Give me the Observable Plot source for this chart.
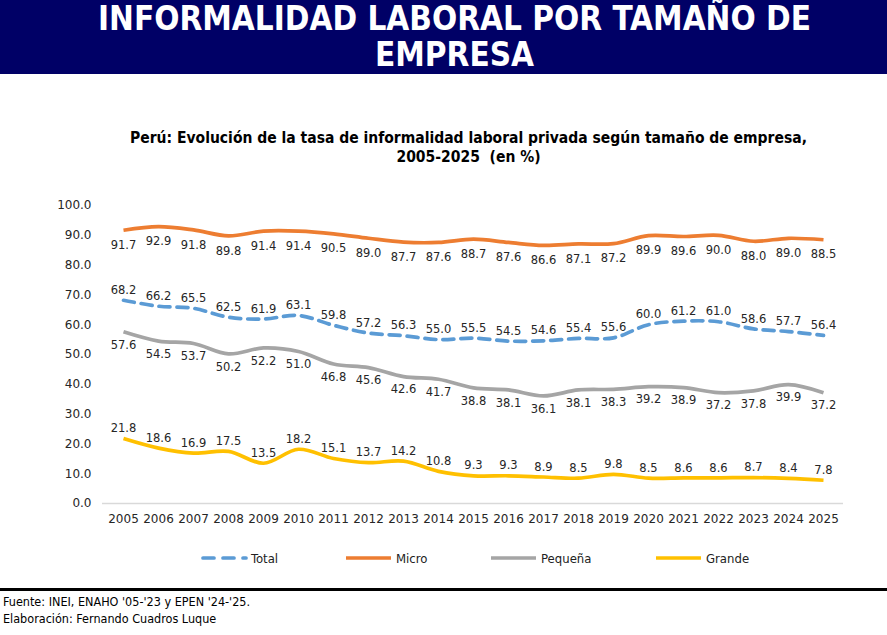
<!DOCTYPE html>
<html><head><meta charset="utf-8">
<script src="https://cdn.jsdelivr.net/npm/d3@7"></script>
<script src="https://cdn.jsdelivr.net/npm/@observablehq/plot@0.6"></script>
<style>
body{margin:0;background:#fff;width:887px;height:635px;position:relative;overflow:hidden;font-family:"DejaVu Sans",sans-serif}
#banner{position:absolute;left:0;top:0;width:887px;height:74px;background:#000066;color:#fff;text-align:center;font-family:"DejaVu Sans Condensed","DejaVu Sans",sans-serif;font-weight:bold;font-size:33px;box-sizing:border-box;padding-left:22px}
#banner div{height:36px;line-height:38px;overflow:visible}
#sub{position:absolute;left:0;top:129px;width:887px;padding-left:50px;box-sizing:border-box;text-align:center;font-family:"Liberation Sans Narrow","DejaVu Sans Condensed",sans-serif;font-weight:bold;font-size:15.5px;line-height:19px;color:#000}
#chart{position:absolute;left:0;top:190px}
#legend{position:absolute;top:548px;left:0;width:887px;height:20px;font-family:"Liberation Sans Narrow","DejaVu Sans Condensed",sans-serif;font-size:13px;color:#222}
.item{position:absolute;top:0;display:flex;align-items:center;height:20px}
#sep{position:absolute;left:0;top:588px;width:887px;height:3px;background:#000}
#foot{position:absolute;left:3px;top:593px;font-family:"Liberation Sans Narrow","DejaVu Sans Condensed",sans-serif;font-size:12.5px;line-height:17px;color:#000}
</style></head>
<body>
<div id="banner"><div>INFORMALIDAD LABORAL POR TAMAÑO DE</div><div>EMPRESA</div></div>
<div id="sub">Perú: Evolución de la tasa de informalidad laboral privada según tamaño de empresa,<br>2005-2025&nbsp; (en %)</div>
<div id="chart"></div>
<div id="legend"></div>
<div id="sep"></div>
<div id="foot">Fuente: INEI, ENAHO '05-'23 y EPEN '24-'25.<br>Elaboración: Fernando Cuadros Luque</div>
<script>
const years = [2005,2006,2007,2008,2009,2010,2011,2012,2013,2014,2015,2016,2017,2018,2019,2020,2021,2022,2023,2024,2025];
const total   = [68.2,66.2,65.5,62.5,61.9,63.1,59.8,57.2,56.3,55.0,55.5,54.5,54.6,55.4,55.6,60.0,61.2,61.0,58.6,57.7,56.4];
const micro   = [91.7,92.9,91.8,89.8,91.4,91.4,90.5,89.0,87.7,87.6,88.7,87.6,86.6,87.1,87.2,89.9,89.6,90.0,88.0,89.0,88.5];
const pequena = [57.6,54.5,53.7,50.2,52.2,51.0,46.8,45.6,42.6,41.7,38.8,38.1,36.1,38.1,38.3,39.2,38.9,37.2,37.8,39.9,37.2];
const grande  = [21.8,18.6,16.9,17.5,13.5,18.2,15.1,13.7,14.2,10.8,9.3,9.3,8.9,8.5,9.8,8.5,8.6,8.6,8.7,8.4,7.8];
const yTicks = [0,10,20,30,40,50,60,70,80,90,100];

const seriesNames = ["Total","Micro","Pequeña","Grande"];
const seriesValues = [total, micro, pequena, grande];
const colors = {"Total":"#5b9bd5","Micro":"#ed7d31","Pequeña":"#a5a5a5","Grande":"#ffc000"};
const labelDy = {"Total":-10,"Micro":15,"Pequeña":13,"Grande":-10};

const rows = [];
seriesNames.forEach((s,i)=>years.forEach((y,j)=>rows.push({serie:s, year:String(y), value:seriesValues[i][j]})));

const marks = [
  Plot.ruleY([0],{stroke:"#d9d9d9",strokeWidth:1.5})
];
for (const s of ["Grande","Pequeña","Micro","Total"]) {
  const d = rows.filter(r=>r.serie===s);
  marks.push(Plot.line(d,{x:"year",y:"value",stroke:colors[s],strokeWidth:3.7,curve:"catmull-rom",
    strokeDasharray: s==="Total" ? "11,7" : null, strokeLinecap: s==="Total" ? "round" : "butt"}));
}
for (const s of seriesNames) {
  const d = rows.filter(r=>r.serie===s);
  marks.push(Plot.text(d,{x:"year",y:"value",text:d=>d.value.toFixed(1),dy:labelDy[s],fill:"#262626",fontSize:11.5}));
}

const chart = Plot.plot({
  width:887, height:345,
  marginLeft:102, marginRight:44, marginTop:15, marginBottom:32,
  style:{fontFamily:"DejaVu Sans, sans-serif", fontSize:"12px", color:"#262626", background:"transparent"},
  x:{type:"point", domain:years.map(String), padding:0.5, label:null, tickSize:0, tickPadding:11},
  y:{domain:[0,100], ticks:yTicks, tickFormat:d=>d.toFixed(1), label:null, tickSize:0, tickPadding:11},
  marks
});
document.getElementById("chart").appendChild(chart);

const legendPos = [{s:"Total",x:200},{s:"Micro",x:345},{s:"Pequeña",x:490},{s:"Grande",x:655}];
const leg = document.getElementById("legend");
for (const {s,x} of legendPos) {
  const div = document.createElement("div");
  div.className="item"; div.style.left = x+"px";
  const dash = s==="Total" ? 'stroke-dasharray="11,9" stroke-linecap="round"' : '';
  div.innerHTML = `<svg width="48" height="10"><line x1="${s==="Total"?3:1}" y1="5" x2="46" y2="5" stroke="${colors[s]}" stroke-width="3.7" ${dash}/></svg><span style="margin-left:3px">${s}</span>`;
  leg.appendChild(div);
}
</script>
</body></html>
